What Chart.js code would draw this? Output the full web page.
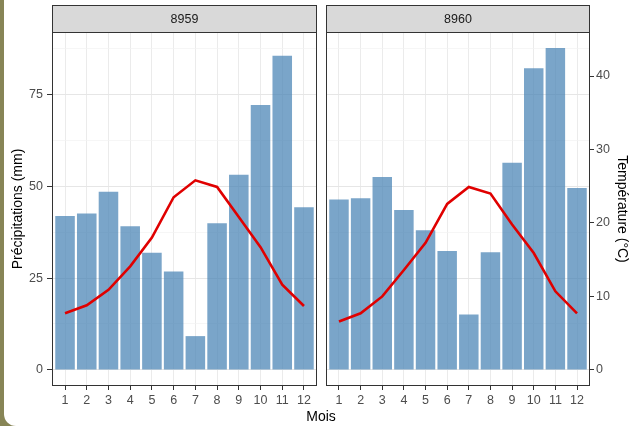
<!DOCTYPE html>
<html><head><meta charset="utf-8">
<script src="https://cdn.jsdelivr.net/npm/chart.js@4/dist/chart.umd.min.js"></script>
<style>
html,body{margin:0;padding:0;width:631px;height:426px;overflow:hidden;background:#878556;}
#bg{position:absolute;left:4px;top:0;right:0;bottom:0;background:#fff;border-bottom-left-radius:12px;}
canvas{position:absolute;left:0;top:0;}
</style></head><body>
<div id="bg"></div>
<canvas id="c1" width="631" height="426"></canvas>
<canvas id="c2" width="631" height="426"></canvas>
<script>
// ---- data ----
const months = [1,2,3,4,5,6,7,8,9,10,11,12];
const stations = ['8959','8960'];
const precip8959 = [41.9, 42.6, 48.5, 39.1, 31.9, 26.8, 9.2, 39.9, 53.1, 72.1, 85.5, 44.3];
const precip8960 = [46.4, 46.7, 52.5, 43.5, 38.0, 32.4, 15.1, 32.0, 56.4, 82.1, 87.6, 49.5];
const temp8959 = [7.7, 8.8, 10.9, 14.1, 18.0, 23.5, 25.8, 24.9, 20.8, 16.7, 11.6, 8.7];
const temp8960 = [6.6, 7.7, 10.0, 13.6, 17.3, 22.6, 24.9, 24.0, 19.8, 15.9, 10.7, 7.7];
const precipTicks = [0, 25, 50, 75];
const precipMinorTicks = [12.5, 37.5, 62.5, 87.5];
const tempTicks = [0, 10, 20, 30, 40];
const xTitle = 'Mois';
const yTitle = 'Précipitations (mm)';
const y2Title = 'Température (°C)';

// ---- styling / layout ----
const FONT = "'Liberation Sans', Arial, Helvetica, sans-serif";
const Y_MIN = -4.38, Y_MAX = 91.98;          // ggplot 5% expansion of [0, max]
const T_MIN = Y_MIN / 2, T_MAX = Y_MAX / 2;  // sec axis = precip / 2
const yAllTicks = precipTicks.concat(precipMinorTicks).sort((a,b)=>a-b);
const isMajor = v => precipTicks.includes(v);

const decor = {
  id: 'decor',
  afterDraw(chart, args, opts) {
    const ctx = chart.ctx;
    const {left, right, top, bottom} = chart.chartArea;
    ctx.save();
    ctx.strokeStyle = '#333';
    ctx.lineWidth = 1;
    ctx.strokeRect(left + 0.5, top + 0.5, right - left - 1, bottom - top - 1);
    // strip
    const sTop = 5;
    ctx.fillStyle = '#d9d9d9';
    ctx.fillRect(left, sTop, right - left, top - sTop);
    ctx.strokeRect(left + 0.5, sTop + 0.5, right - left - 1, top - sTop);
    ctx.fillStyle = '#1a1a1a';
    ctx.font = '12.5px ' + FONT;
    ctx.textAlign = 'center';
    ctx.textBaseline = 'middle';
    ctx.fillText(opts.label, (left + right) / 2, (sTop + top) / 2 + 1);
    if (opts.xTitle) {
      ctx.fillStyle = '#000';
      ctx.font = '14px ' + FONT;
      ctx.fillText(opts.xTitle, 321, 417);
    }
    ctx.restore();
  }
};

function xScale() {
  return {
    type: 'linear', min: 0.4, max: 12.6, offset: false,
    afterBuildTicks: a => { a.ticks = months.map(v => ({value: v})); },
    afterFit: s => { s.height = 40; },
    border: {display: false},
    grid: {offset: false, color: '#ebebeb', lineWidth: 1, tickColor: '#333', tickWidth: 1, tickLength: 4},
    ticks: {autoSkip: false, maxRotation: 0, padding: 3, color: '#4d4d4d',
            font: {family: FONT, size: 12.5}, callback: v => String(v)}
  };
}
function yGrid(drawTicks) {
  return {
    color: c => isMajor(c.tick.value) ? '#e6e6e6' : '#f2f2f2',
    lineWidth: c => isMajor(c.tick.value) ? 1 : 0.7,
    tickColor: c => isMajor(c.tick.value) ? '#333' : 'rgba(0,0,0,0)',
    tickWidth: 1, tickLength: 5, drawTicks: drawTicks
  };
}

function makePanel(id, station, precip, temp, first) {
  const scales = {
    x: xScale(),
    y: {
      type: 'linear', position: 'left', min: Y_MIN, max: Y_MAX,
      afterBuildTicks: a => { a.ticks = yAllTicks.map(v => ({value: v})); },
      afterFit: s => { s.width = first ? 52 : 0; },
      border: {display: false},
      grid: yGrid(first),
      ticks: {display: first, padding: 4, color: '#4d4d4d', font: {family: FONT, size: 12.5},
              callback: v => isMajor(v) ? String(v) : ''},
      title: {display: first, text: yTitle, color: '#000', font: {family: FONT, size: 14},
              padding: {top: 10, bottom: 0}}
    },
    y2: first ? {type: 'linear', position: 'right', display: false, min: T_MIN, max: T_MAX} : {
      type: 'linear', position: 'right', min: T_MIN, max: T_MAX,
      afterBuildTicks: a => { a.ticks = tempTicks.map(v => ({value: v})); },
      afterFit: s => { s.width = 41; },
      border: {display: false},
      grid: {drawOnChartArea: false, tickColor: '#333', tickWidth: 1, tickLength: 4},
      ticks: {padding: 2, color: '#4d4d4d', font: {family: FONT, size: 12.5}},
      title: {display: true, text: y2Title, color: '#000', font: {family: FONT, size: 14},
              padding: {top: 1, bottom: 0}}
    }
  };
  return new Chart(document.getElementById(id), {
    type: 'bar',
    data: {
      datasets: [
        {type: 'line', data: months.map((m, i) => ({x: m, y: temp[i]})), yAxisID: 'y2',
         borderColor: '#e00000', borderWidth: 2.6, pointRadius: 0, tension: 0, fill: false, order: 1},
        {type: 'bar', data: months.map((m, i) => ({x: m, y: precip[i]})), yAxisID: 'y',
         backgroundColor: 'rgba(70,130,180,0.72)', barPercentage: 0.9, categoryPercentage: 1,
         borderWidth: 0, order: 2}
      ]
    },
    options: {
      responsive: false, animation: false, devicePixelRatio: 1,
      layout: {padding: first ? {left: 0, right: 314, top: 32, bottom: 0}
                              : {left: 326, right: 0, top: 32, bottom: 0}},
      scales: scales,
      plugins: {legend: {display: false}, tooltip: {enabled: false},
                decor: {label: station, xTitle: first ? null : xTitle}}
    },
    plugins: [decor]
  });
}

makePanel('c1', stations[0], precip8959, temp8959, true);
makePanel('c2', stations[1], precip8960, temp8960, false);
</script>
</body></html>
